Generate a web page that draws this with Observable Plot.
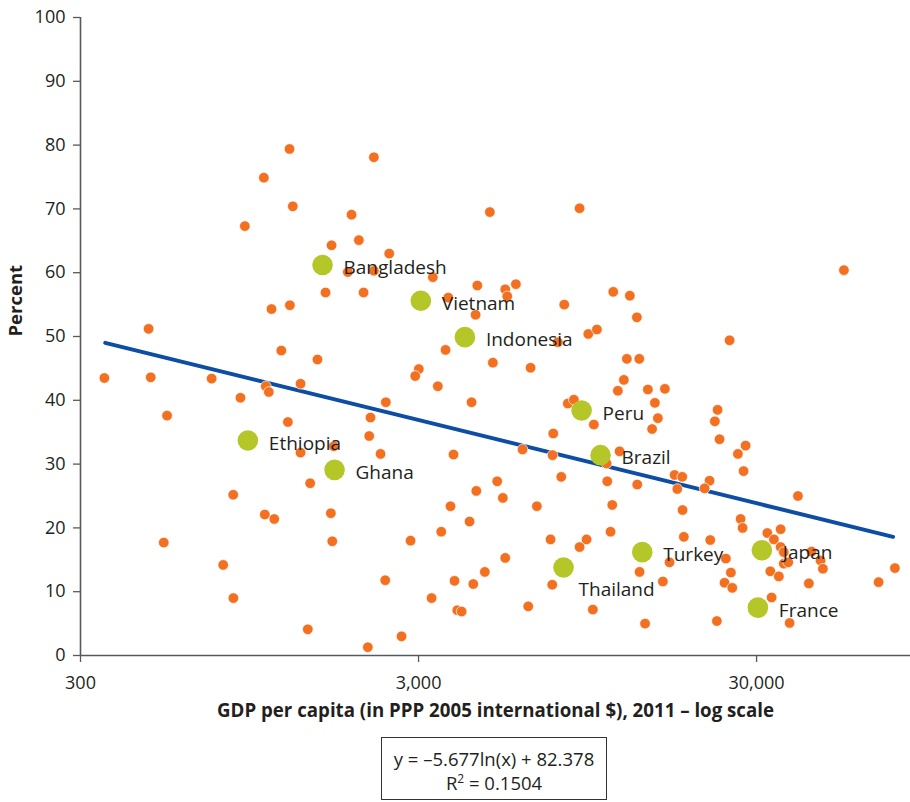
<!DOCTYPE html>
<html>
<head>
<meta charset="utf-8">
<script src="https://cdn.jsdelivr.net/npm/d3@7"></script>
<script src="https://cdn.jsdelivr.net/npm/@observablehq/plot@0.6"></script>
<style>
  html, body { margin: 0; padding: 0; background: #fff; }
  #wrap { position: relative; width: 910px; height: 802px; font-family: "Open Sans", sans-serif; color: #231f20; }
  #eq { position: absolute; left: 381px; top: 737px; width: 226px; height: 63px; border: 1px solid #333;
        text-align: center; font-size: 18.5px; line-height: 24px; padding-top: 9px; box-sizing: border-box; }
  #eq sup { font-size: 12px; line-height: 0; }
</style>
</head>
<body>
<div id="wrap">
  <div id="chart"></div>
  <div id="eq">y = –5.677ln(x) + 82.378<br>R<sup>2</sup> = 0.1504</div>
</div>
<script>
// Orange points: GDP per capita (PPP 2005 int. $, 2011) and percent
const gdp = [1246, 2213, 1046, 1274, 1901, 919, 1998, 1659, 1853, 2213, 1592, 2063, 1102, 1249, 477, 1178, 1507, 353, 484, 733, 1060, 1082, 1343,
  892, 541, 1232, 2163, 2144, 1685, 1343, 2316, 1434, 849, 1053, 1123, 1651, 529, 1667, 793, 850, 1411, 2124,
  4876, 8985, 2457, 3307, 4477, 5415, 5823, 5490, 3673, 4425, 8094, 11302, 12655, 13275, 3606, 7749, 9535, 10111, 12400, 13494,
  3006, 2933, 4977, 6435, 3421, 12149, 11662, 14309, 2401, 4305, 8294, 8643, 9903, 7510, 14725,
  3807, 6093, 7474, 11799, 10797, 7932, 5127, 4447, 5327, 10850, 13308, 3730, 6717, 11226, 4247, 3502, 11095, 2841, 7374, 9423, 8985,
  5415, 4712, 3833, 4356, 2391, 7459, 3279, 3906, 4024, 6333, 9836, 14037, 2672,
  54390, 24960, 16065, 15009, 23001, 22581, 15315, 23314, 27840, 26418, 27456,
  17161, 18085, 17482, 21776, 21053, 39762, 18121, 26906, 27276, 32287, 35340, 33760, 18279, 21883, 35340, 36111, 43630, 46390, 47130,
  36111, 37217, 24337, 16581, 13520, 25185, 32946, 34915, 15848, 24118, 25424, 42835, 68870, 76970, 33240, 22890, 37570];
const pct = [79.4, 78.1, 74.9, 70.4, 69.1, 67.3, 65.1, 64.3, 60.1, 60.3, 56.9, 56.9, 54.3, 54.9, 51.2, 47.8, 46.4, 43.5, 43.6, 43.4, 42.2, 41.3, 42.6,
  40.4, 37.6, 36.6, 37.3, 34.4, 32.8, 31.8, 31.6, 27.0, 25.2, 22.1, 21.4, 22.3, 17.7, 17.9, 14.2, 9.0, 4.1, 1.3,
  69.5, 70.1, 63.0, 59.3, 58.0, 57.4, 58.2, 56.3, 56.1, 53.4, 55.0, 57.0, 56.4, 53.0, 47.9, 49.1, 50.4, 51.1, 46.5, 46.5,
  44.9, 43.8, 45.9, 45.1, 42.2, 43.2, 41.5, 41.7, 39.7, 39.7, 39.5, 40.1, 36.2, 34.8, 35.5,
  31.5, 32.3, 31.4, 32.0, 30.1, 28.0, 27.3, 25.8, 24.7, 27.3, 26.8, 23.4, 23.4, 23.6, 21.0, 19.4, 19.4, 18.0, 18.2, 18.2, 17.0,
  15.3, 13.1, 11.7, 11.2, 11.8, 11.1, 9.0, 7.1, 6.9, 7.7, 7.2, 5.0, 3.0,
  60.4, 49.4, 41.8, 39.6, 38.5, 36.7, 37.2, 33.9, 32.9, 31.6, 28.9,
  28.3, 28.0, 26.1, 27.4, 26.2, 25.0, 22.8, 21.4, 20.0, 19.2, 19.8, 18.2, 18.6, 18.1, 17.0, 16.2, 16.3, 14.9, 13.6,
  14.4, 14.6, 15.2, 14.6, 13.1, 13.0, 13.2, 12.4, 11.6, 11.4, 10.6, 11.3, 11.5, 13.7, 9.1, 5.4, 5.1];

// Highlighted countries
const countries = ["Bangladesh", "Vietnam", "Indonesia", "Ethiopia", "Ghana", "Peru", "Brazil", "Turkey", "Thailand", "Japan", "France"];
const cGdp = [1560, 3047, 4114, 938, 1693, 9109, 10365, 13770, 8054, 31100, 30262];
const cPct = [61.2, 55.6, 49.9, 33.7, 29.1, 38.4, 31.4, 16.2, 13.8, 16.5, 7.5];

// Trend line endpoints (y = -5.677 ln(x) + 82.378)
const trendGdp = [355, 76000];
const trendPct = [49.0, 18.6];

const xTicks = [300, 3000, 30000];
const yTicks = [0, 10, 20, 30, 40, 50, 60, 70, 80, 90, 100];

const points = gdp.map((g, i) => ({gdp: g, pct: pct[i]}));
const hl = countries.map((c, i) => ({name: c, gdp: cGdp[i], pct: cPct[i]}));
const trend = trendGdp.map((g, i) => ({gdp: g, pct: trendPct[i]}));
const normal = hl.filter(d => d.name !== "Thailand");
const below = hl.filter(d => d.name === "Thailand");

const ink = "#231f20";
const axisCol = "#58595b";

const chart = Plot.plot({
  width: 910,
  height: 735,
  marginLeft: 80,
  marginRight: 0,
  marginTop: 17,
  marginBottom: 80,
  style: {fontFamily: "'Open Sans', sans-serif", color: ink, background: "white"},
  x: {type: "log", domain: [300, 85600]},
  y: {domain: [0, 100]},
  marks: [
    Plot.axisX({ticks: xTicks, tickFormat: d3.format(","), tickSize: 7, tickPadding: 14, fontSize: 18, stroke: axisCol, strokeWidth: 1.3, label: null, color: ink}),
    Plot.axisY({ticks: yTicks, tickSize: 7, tickPadding: 8, fontSize: 18, stroke: axisCol, strokeWidth: 1.3, label: null}),
    Plot.ruleX([300], {stroke: axisCol, strokeWidth: 1.6}),
    Plot.ruleY([0], {stroke: axisCol, strokeWidth: 1.6}),
    Plot.line(trend, {x: "gdp", y: "pct", stroke: "#0e4da4", strokeWidth: 4}),
    Plot.dot(points, {x: "gdp", y: "pct", r: 5.3, fill: "#f37021", stroke: "white", strokeWidth: 0.7}),
    Plot.dot(hl, {x: "gdp", y: "pct", r: 10.3, fill: "#b5c629"}),
    Plot.text(normal, {x: "gdp", y: "pct", text: "name", dx: 21, dy: 3, textAnchor: "start", fontSize: 19, fill: ink}),
    Plot.text(below, {x: "gdp", y: "pct", text: "name", dx: 15, dy: 22, textAnchor: "start", fontSize: 19, fill: ink}),
    Plot.text(["Percent"], {frameAnchor: "left", dx: -64, rotate: -90, fontSize: 18.5, fontWeight: "bold", fill: ink}),
    Plot.text(["GDP per capita (in PPP 2005 international $), 2011 – log scale"], {frameAnchor: "bottom", dy: 61, fontSize: 18.7, fontWeight: "bold", fill: ink})
  ]
});
document.getElementById("chart").appendChild(chart);
</script>
</body>
</html>
